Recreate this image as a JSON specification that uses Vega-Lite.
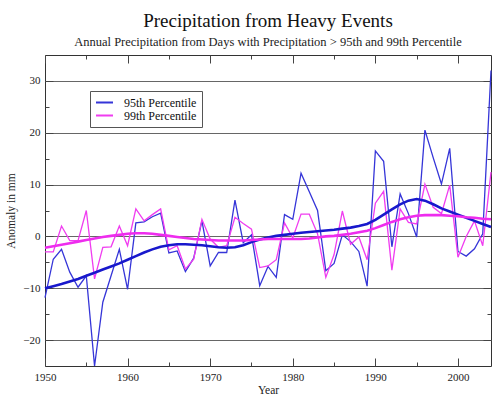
{
  "$schema": "https://vega.github.io/schema/vega-lite/v6.json",
  "width": 446,
  "height": 311,
  "autosize": "none",
  "padding": {"left": 45, "top": 55, "right": 1, "bottom": 28},
  "background": "white",
  "title": {
    "text": "Precipitation from Heavy Events",
    "subtitle": "Annual Precipitation from Days with Precipitation > 95th and 99th Percentile",
    "font": "Liberation Serif",
    "fontSize": 19,
    "fontWeight": "normal",
    "color": "#111",
    "subtitleFont": "Liberation Serif",
    "subtitleFontSize": 12.5,
    "subtitleColor": "#222",
    "anchor": "middle",
    "offset": 6,
    "subtitlePadding": 5
  },
  "config": {
    "font": "Liberation Serif",
    "view": {"stroke": "#333", "strokeWidth": 1},
    "axis": {
      "domain": false,
      "labelFont": "Liberation Serif",
      "labelFontSize": 11,
      "labelColor": "#222",
      "titleFont": "Liberation Serif",
      "titleFontSize": 11.5,
      "titleFontWeight": "normal",
      "titleColor": "#222",
      "tickColor": "#444",
      "grid": false
    },
    "legend": {
      "padding": 5, "strokeColor": "#555", "fillColor": "white",
      "symbolType": "stroke", "symbolSize": 289, "symbolStrokeWidth": 2,
      "labelFont": "Liberation Serif", "labelFontSize": 12, "labelColor": "#111",
      "labelOffset": 10, "clipHeight": 13, "rowPadding": 0
    }
  },
  "data": {
    "values": [
      {"year": 1950, "series": "95th Percentile", "value": -11.8, "smooth": -10.0},
      {"year": 1951, "series": "95th Percentile", "value": -4.4, "smooth": -9.6},
      {"year": 1952, "series": "95th Percentile", "value": -2.5, "smooth": -9.2},
      {"year": 1953, "series": "95th Percentile", "value": -6.9, "smooth": -8.7},
      {"year": 1954, "series": "95th Percentile", "value": -9.8, "smooth": -8.2},
      {"year": 1955, "series": "95th Percentile", "value": -7.6, "smooth": -7.6},
      {"year": 1956, "series": "95th Percentile", "value": -25.0, "smooth": -7.0},
      {"year": 1957, "series": "95th Percentile", "value": -12.7, "smooth": -6.4},
      {"year": 1958, "series": "95th Percentile", "value": -7.6, "smooth": -5.8},
      {"year": 1959, "series": "95th Percentile", "value": -2.5, "smooth": -5.2},
      {"year": 1960, "series": "95th Percentile", "value": -10.2, "smooth": -4.5},
      {"year": 1961, "series": "95th Percentile", "value": 2.6, "smooth": -3.8},
      {"year": 1962, "series": "95th Percentile", "value": 2.8, "smooth": -3.1},
      {"year": 1963, "series": "95th Percentile", "value": 3.8, "smooth": -2.5},
      {"year": 1964, "series": "95th Percentile", "value": 4.5, "smooth": -2.0},
      {"year": 1965, "series": "95th Percentile", "value": -3.2, "smooth": -1.7},
      {"year": 1966, "series": "95th Percentile", "value": -2.8, "smooth": -1.5},
      {"year": 1967, "series": "95th Percentile", "value": -6.8, "smooth": -1.5},
      {"year": 1968, "series": "95th Percentile", "value": -4.2, "smooth": -1.6},
      {"year": 1969, "series": "95th Percentile", "value": 3.0, "smooth": -1.7},
      {"year": 1970, "series": "95th Percentile", "value": -5.7, "smooth": -1.9},
      {"year": 1971, "series": "95th Percentile", "value": -3.1, "smooth": -2.1},
      {"year": 1972, "series": "95th Percentile", "value": -3.1, "smooth": -2.2},
      {"year": 1973, "series": "95th Percentile", "value": 7.0, "smooth": -2.1},
      {"year": 1974, "series": "95th Percentile", "value": -1.2, "smooth": -1.7},
      {"year": 1975, "series": "95th Percentile", "value": 0.3, "smooth": -1.1},
      {"year": 1976, "series": "95th Percentile", "value": -9.5, "smooth": -0.6},
      {"year": 1977, "series": "95th Percentile", "value": -5.8, "smooth": -0.2},
      {"year": 1978, "series": "95th Percentile", "value": -7.9, "smooth": 0.1},
      {"year": 1979, "series": "95th Percentile", "value": 4.2, "smooth": 0.3},
      {"year": 1980, "series": "95th Percentile", "value": 3.3, "smooth": 0.5},
      {"year": 1981, "series": "95th Percentile", "value": 12.2, "smooth": 0.7},
      {"year": 1982, "series": "95th Percentile", "value": 8.6, "smooth": 0.85},
      {"year": 1983, "series": "95th Percentile", "value": 5.0, "smooth": 1.0},
      {"year": 1984, "series": "95th Percentile", "value": -6.6, "smooth": 1.15},
      {"year": 1985, "series": "95th Percentile", "value": -5.2, "smooth": 1.3},
      {"year": 1986, "series": "95th Percentile", "value": 0.3, "smooth": 1.5},
      {"year": 1987, "series": "95th Percentile", "value": -1.0, "smooth": 1.7},
      {"year": 1988, "series": "95th Percentile", "value": -2.9, "smooth": 2.0},
      {"year": 1989, "series": "95th Percentile", "value": -9.6, "smooth": 2.4},
      {"year": 1990, "series": "95th Percentile", "value": 16.5, "smooth": 3.2},
      {"year": 1991, "series": "95th Percentile", "value": 14.5, "smooth": 4.2},
      {"year": 1992, "series": "95th Percentile", "value": -2.0, "smooth": 5.2},
      {"year": 1993, "series": "95th Percentile", "value": 8.2, "smooth": 6.2},
      {"year": 1994, "series": "95th Percentile", "value": 4.4, "smooth": 6.9},
      {"year": 1995, "series": "95th Percentile", "value": -0.1, "smooth": 7.2},
      {"year": 1996, "series": "95th Percentile", "value": 20.5, "smooth": 6.9},
      {"year": 1997, "series": "95th Percentile", "value": 15.2, "smooth": 6.2},
      {"year": 1998, "series": "95th Percentile", "value": 10.1, "smooth": 5.4},
      {"year": 1999, "series": "95th Percentile", "value": 17.0, "smooth": 4.8},
      {"year": 2000, "series": "95th Percentile", "value": -2.9, "smooth": 4.2},
      {"year": 2001, "series": "95th Percentile", "value": -3.8, "smooth": 3.6},
      {"year": 2002, "series": "95th Percentile", "value": -2.4, "smooth": 3.0},
      {"year": 2003, "series": "95th Percentile", "value": 0.5, "smooth": 2.4},
      {"year": 2004, "series": "95th Percentile", "value": 32.0, "smooth": 1.8},
      {"year": 1950, "series": "99th Percentile", "value": -3.0, "smooth": -2.2},
      {"year": 1951, "series": "99th Percentile", "value": -3.0, "smooth": -1.9},
      {"year": 1952, "series": "99th Percentile", "value": 2.0, "smooth": -1.6},
      {"year": 1953, "series": "99th Percentile", "value": -0.8, "smooth": -1.3},
      {"year": 1954, "series": "99th Percentile", "value": -0.8, "smooth": -1.0},
      {"year": 1955, "series": "99th Percentile", "value": 5.0, "smooth": -0.7},
      {"year": 1956, "series": "99th Percentile", "value": -8.2, "smooth": -0.4},
      {"year": 1957, "series": "99th Percentile", "value": -2.1, "smooth": -0.1},
      {"year": 1958, "series": "99th Percentile", "value": -2.0, "smooth": 0.1},
      {"year": 1959, "series": "99th Percentile", "value": 2.0, "smooth": 0.3},
      {"year": 1960, "series": "99th Percentile", "value": -1.8, "smooth": 0.5},
      {"year": 1961, "series": "99th Percentile", "value": 5.3, "smooth": 0.6},
      {"year": 1962, "series": "99th Percentile", "value": 3.0, "smooth": 0.6},
      {"year": 1963, "series": "99th Percentile", "value": 4.2, "smooth": 0.5},
      {"year": 1964, "series": "99th Percentile", "value": 5.3, "smooth": 0.3},
      {"year": 1965, "series": "99th Percentile", "value": -2.6, "smooth": 0.1},
      {"year": 1966, "series": "99th Percentile", "value": -1.8, "smooth": -0.1},
      {"year": 1967, "series": "99th Percentile", "value": -6.3, "smooth": -0.3},
      {"year": 1968, "series": "99th Percentile", "value": -4.4, "smooth": -0.5},
      {"year": 1969, "series": "99th Percentile", "value": 3.3, "smooth": -0.6},
      {"year": 1970, "series": "99th Percentile", "value": -0.5, "smooth": -0.7},
      {"year": 1971, "series": "99th Percentile", "value": -2.1, "smooth": -0.8},
      {"year": 1972, "series": "99th Percentile", "value": -1.8, "smooth": -0.8},
      {"year": 1973, "series": "99th Percentile", "value": 3.7, "smooth": -0.8},
      {"year": 1974, "series": "99th Percentile", "value": 2.5, "smooth": -0.8},
      {"year": 1975, "series": "99th Percentile", "value": 1.4, "smooth": -0.7},
      {"year": 1976, "series": "99th Percentile", "value": -6.0, "smooth": -0.6},
      {"year": 1977, "series": "99th Percentile", "value": -5.7, "smooth": -0.5},
      {"year": 1978, "series": "99th Percentile", "value": -4.5, "smooth": -0.5},
      {"year": 1979, "series": "99th Percentile", "value": 2.6, "smooth": -0.5},
      {"year": 1980, "series": "99th Percentile", "value": -0.3, "smooth": -0.5},
      {"year": 1981, "series": "99th Percentile", "value": 4.3, "smooth": -0.5},
      {"year": 1982, "series": "99th Percentile", "value": 4.3, "smooth": -0.4},
      {"year": 1983, "series": "99th Percentile", "value": 0.5, "smooth": -0.2},
      {"year": 1984, "series": "99th Percentile", "value": -7.9, "smooth": 0.0},
      {"year": 1985, "series": "99th Percentile", "value": -3.5, "smooth": 0.1},
      {"year": 1986, "series": "99th Percentile", "value": 4.9, "smooth": 0.3},
      {"year": 1987, "series": "99th Percentile", "value": -1.5, "smooth": 0.5},
      {"year": 1988, "series": "99th Percentile", "value": -0.1, "smooth": 0.8},
      {"year": 1989, "series": "99th Percentile", "value": -4.5, "smooth": 1.1},
      {"year": 1990, "series": "99th Percentile", "value": 6.4, "smooth": 1.6},
      {"year": 1991, "series": "99th Percentile", "value": 8.7, "smooth": 2.2},
      {"year": 1992, "series": "99th Percentile", "value": -6.5, "smooth": 2.8},
      {"year": 1993, "series": "99th Percentile", "value": 5.3, "smooth": 3.3},
      {"year": 1994, "series": "99th Percentile", "value": 2.7, "smooth": 3.7},
      {"year": 1995, "series": "99th Percentile", "value": 2.4, "smooth": 4.0},
      {"year": 1996, "series": "99th Percentile", "value": 10.1, "smooth": 4.1},
      {"year": 1997, "series": "99th Percentile", "value": 5.6, "smooth": 4.1},
      {"year": 1998, "series": "99th Percentile", "value": 4.4, "smooth": 4.1},
      {"year": 1999, "series": "99th Percentile", "value": 9.9, "smooth": 4.0},
      {"year": 2000, "series": "99th Percentile", "value": -4.0, "smooth": 3.9},
      {"year": 2001, "series": "99th Percentile", "value": 0.0, "smooth": 3.7},
      {"year": 2002, "series": "99th Percentile", "value": 3.0, "smooth": 3.6},
      {"year": 2003, "series": "99th Percentile", "value": -1.8, "smooth": 3.4},
      {"year": 2004, "series": "99th Percentile", "value": 12.4, "smooth": 3.3}
    ]
  },
  "resolve": {"axis": {"x": "independent", "y": "independent"}},
  "layer": [
    {
      "transform": [{"filter": "datum.series == '95th Percentile'"}],
      "mark": {"type": "line", "strokeWidth": 1.3},
      "encoding": {
        "x": {
          "field": "year", "type": "quantitative",
          "scale": {"domain": [1950, 2004], "nice": false, "zero": false},
          "axis": {"orient": "bottom", "values": [1950, 1960, 1970, 1980, 1990, 2000], "format": "d", "tickSize": -8, "labelPadding": 13, "labelFlush": false, "title": "Year", "titlePadding": 2}
        },
        "y": {
          "field": "value", "type": "quantitative",
          "scale": {"domain": [-25, 35], "nice": false, "zero": false},
          "axis": {"orient": "left", "values": [-20, -10, 0, 10, 20, 30], "tickSize": -8, "labelPadding": 13, "grid": true, "gridColor": "#666", "gridWidth": 1.2, "gridOpacity": 1, "title": "Anomaly in mm", "titlePadding": 6}
        },
        "color": {
          "field": "series", "type": "nominal",
          "scale": {"domain": ["95th Percentile", "99th Percentile"], "range": ["#3535d8", "#f03cf0"]},
          "legend": {"orient": "none", "legendX": 45, "legendY": 36, "title": null,
            "encode": {"labels": {"update": {"font": {"value": "Liberation Serif"}, "fontSize": {"value": 12}}}}}
        }
      }
    },
    {
      "transform": [{"filter": "datum.series == '99th Percentile'"}],
      "mark": {"type": "line", "strokeWidth": 1.3},
      "encoding": {
        "x": {
          "field": "year", "type": "quantitative",
          "axis": {"orient": "bottom", "values": [1955, 1965, 1975, 1985, 1995], "tickSize": -4, "labels": false, "title": null}
        },
        "y": {
          "field": "value", "type": "quantitative",
          "axis": {"orient": "left", "values": [-15, -5, 5, 15, 25], "tickSize": -4, "labels": false, "title": null}
        },
        "color": {"field": "series", "type": "nominal"}
      }
    },
    {
      "transform": [{"filter": "datum.series == '95th Percentile'"}],
      "mark": {"type": "line", "strokeWidth": 2.6},
      "encoding": {
        "x": {
          "field": "year", "type": "quantitative",
          "axis": {"orient": "top", "values": [1950, 1960, 1970, 1980, 1990, 2000], "tickSize": -8, "labels": false, "title": null}
        },
        "y": {
          "field": "smooth", "type": "quantitative",
          "axis": {"orient": "right", "values": [-20, -10, 0, 10, 20, 30], "tickSize": -8, "labels": false, "title": null}
        },
        "stroke": {
          "field": "series", "type": "nominal",
          "scale": {"domain": ["95th Percentile", "99th Percentile"], "range": ["#1818cc", "#ee2cee"]},
          "legend": null
        }
      }
    },
    {
      "transform": [{"filter": "datum.series == '99th Percentile'"}],
      "mark": {"type": "line", "strokeWidth": 2.6},
      "encoding": {
        "x": {
          "field": "year", "type": "quantitative",
          "axis": {"orient": "top", "values": [1955, 1965, 1975, 1985, 1995], "tickSize": -4, "labels": false, "title": null}
        },
        "y": {
          "field": "smooth", "type": "quantitative",
          "axis": {"orient": "right", "values": [-15, -5, 5, 15, 25], "tickSize": -4, "labels": false, "title": null}
        },
        "stroke": {"field": "series", "type": "nominal", "legend": null}
      }
    }
  ]
}
